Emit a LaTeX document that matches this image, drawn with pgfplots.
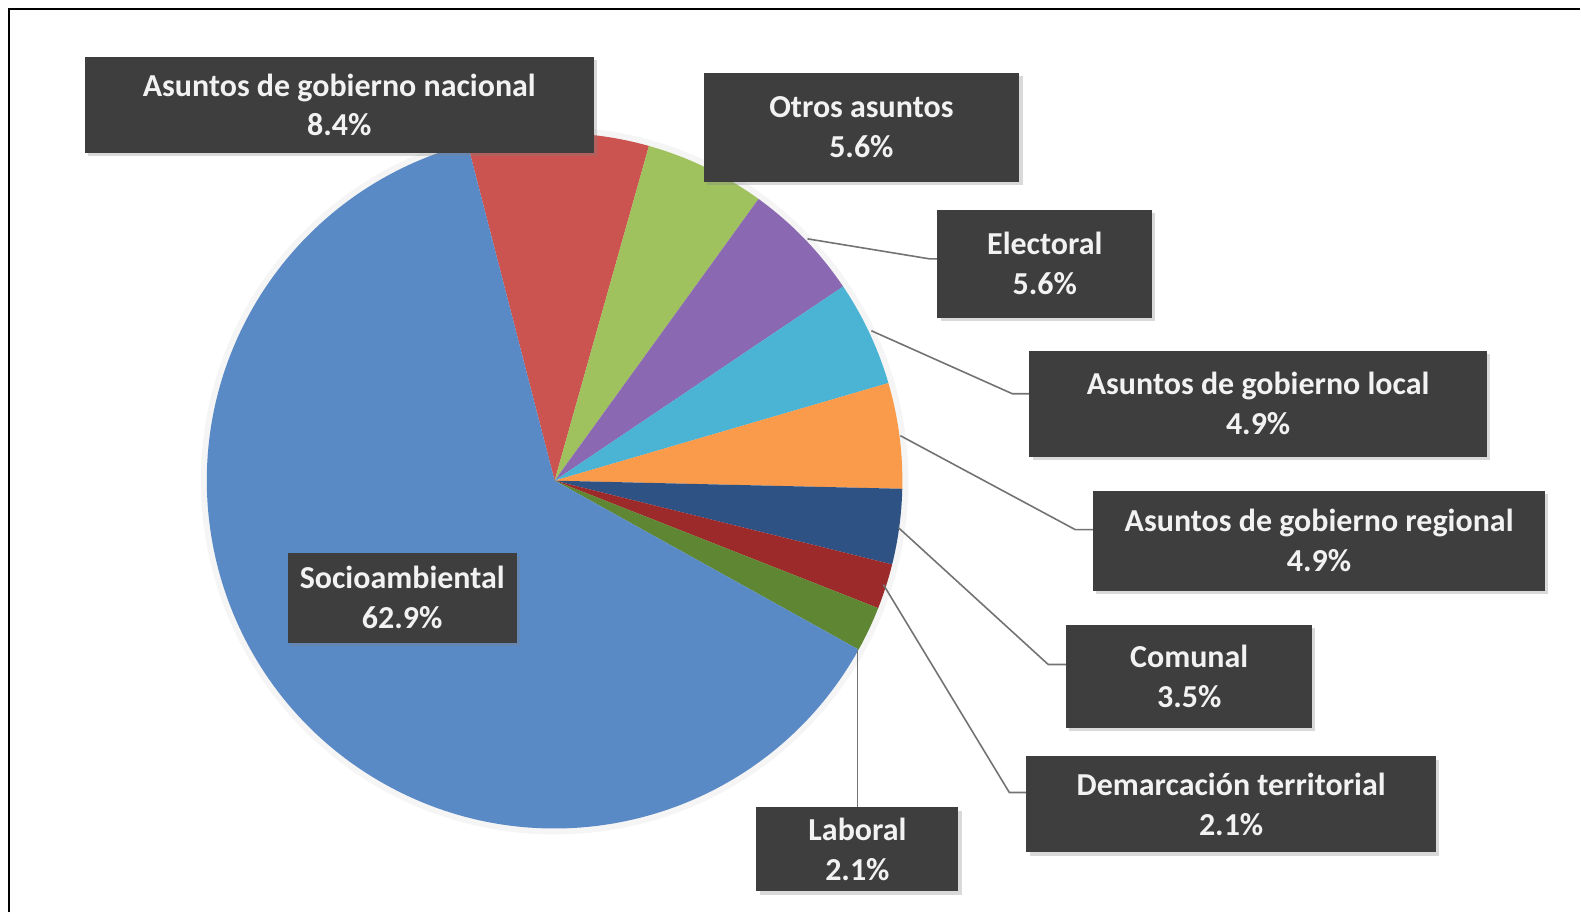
\documentclass[border=0pt]{standalone}
\usepackage{pgfplots}
\usepackage{pgfplotstable}
\pgfplotsset{compat=1.18}
\usepackage{fontspec}
\setmainfont{Carlito}
\usetikzlibrary{shadows}

\definecolor{cSocio}{HTML}{5A8AC6}
\definecolor{cNac}{HTML}{CB5450}
\definecolor{cOtros}{HTML}{A0C25E}
\definecolor{cElect}{HTML}{8A68B2}
\definecolor{cLocal}{HTML}{4BB3D3}
\definecolor{cReg}{HTML}{F99B4A}
\definecolor{cCom}{HTML}{2E5283}
\definecolor{cDem}{HTML}{9C2A2A}
\definecolor{cLab}{HTML}{5F8733}
\definecolor{boxgray}{HTML}{3E3E3E}

% slices, clockwise from the blue/red boundary
\pgfplotstableread{
key       val   col
nacional  8.4   cNac
otros     5.6   cOtros
electoral 5.6   cElect
local     4.9   cLocal
regional  4.9   cReg
comunal   3.5   cCom
demarc    2.1   cDem
laboral   2.1   cLab
socio     62.9  cSocio
}\piedata

\tikzset{
  lbl/.style={fill=boxgray, text=white!95!black, font=\fontsize{16}{20}\selectfont\bfseries,
    align=center, inner sep=0pt,
    drop shadow={shadow xshift=1.6pt, shadow yshift=-1.6pt, opacity=0.3}},
  leader/.style={draw=black!55, line width=0.8pt}
}
% \lbl{cx}{cy}{w}{h}{text}  (pixel units, 1px = 0.5pt)
\newcommand{\lbl}[5]{\node[lbl, minimum width=#3*0.5pt, minimum height=#4*0.5pt] at (axis cs:#1,#2) {#5};}

\begin{document}
\begin{tikzpicture}
\begin{axis}[
  scale only axis, width=790.5pt, height=456.5pt,
  xmin=0, xmax=1581, ymin=0, ymax=913, y dir=reverse,
  hide axis, clip=false]
\path (axis cs:0,0) rectangle (axis cs:1581,913);

% frame
\draw[black, line width=1.1pt] (axis cs:9,913) -- (axis cs:9,9) -- (axis cs:1581,9);

% faint glow round the pie
\fill[black!4] (axis cs:555,481) circle[radius=177pt];

% pie
\def\angstart{104.5}
\pgfplotsforeachungrouped \i in {0,...,8}{%
  \pgfplotstablegetelem{\i}{val}\of{\piedata}\let\sliceval\pgfplotsretval
  \pgfplotstablegetelem{\i}{col}\of{\piedata}\let\slicecol\pgfplotsretval
  \pgfmathsetmacro\angend{\angstart-3.6*\sliceval}%
  \edef\temp{\noexpand\fill[\slicecol] (axis cs:555,481) -- ++(\angstart:174pt)
    arc[start angle=\angstart, end angle=\angend, radius=174pt] -- cycle;}%
  \temp
  \let\angstart\angend
}

% leader lines
\draw[leader] (axis cs:808,239) -- (axis cs:930,259) -- (axis cs:938,259);
\draw[leader] (axis cs:872,331) -- (axis cs:1013,394) -- (axis cs:1030,394);
\draw[leader] (axis cs:901,436) -- (axis cs:1076,530) -- (axis cs:1094,530);
\draw[leader] (axis cs:899,528) -- (axis cs:1049,665) -- (axis cs:1067,665);
\draw[leader] (axis cs:884,585) -- (axis cs:1010,793) -- (axis cs:1027,793);
\draw[leader] (axis cs:858,650) -- (axis cs:858,808);

% labels
\lbl{339.5}{105}{509}{96}{Asuntos de gobierno nacional\\8.4\%}
\lbl{862}{127.5}{316}{109}{Otros asuntos\\5.6\%}
\lbl{1045.5}{264}{215}{108}{Electoral\\5.6\%}
\lbl{1259}{404}{458}{106}{Asuntos de gobierno local\\4.9\%}
\lbl{1320}{541}{452}{100}{Asuntos de gobierno regional\\4.9\%}
\lbl{1190}{676.5}{246}{103}{Comunal\\3.5\%}
\lbl{1232}{805}{410}{96}{Demarcación territorial\\2.1\%}
\lbl{858}{850}{202}{84}{Laboral\\2.1\%}
\lbl{402.5}{598}{229}{90}{Socioambiental\\62.9\%}
\end{axis}
\end{tikzpicture}
\end{document}
